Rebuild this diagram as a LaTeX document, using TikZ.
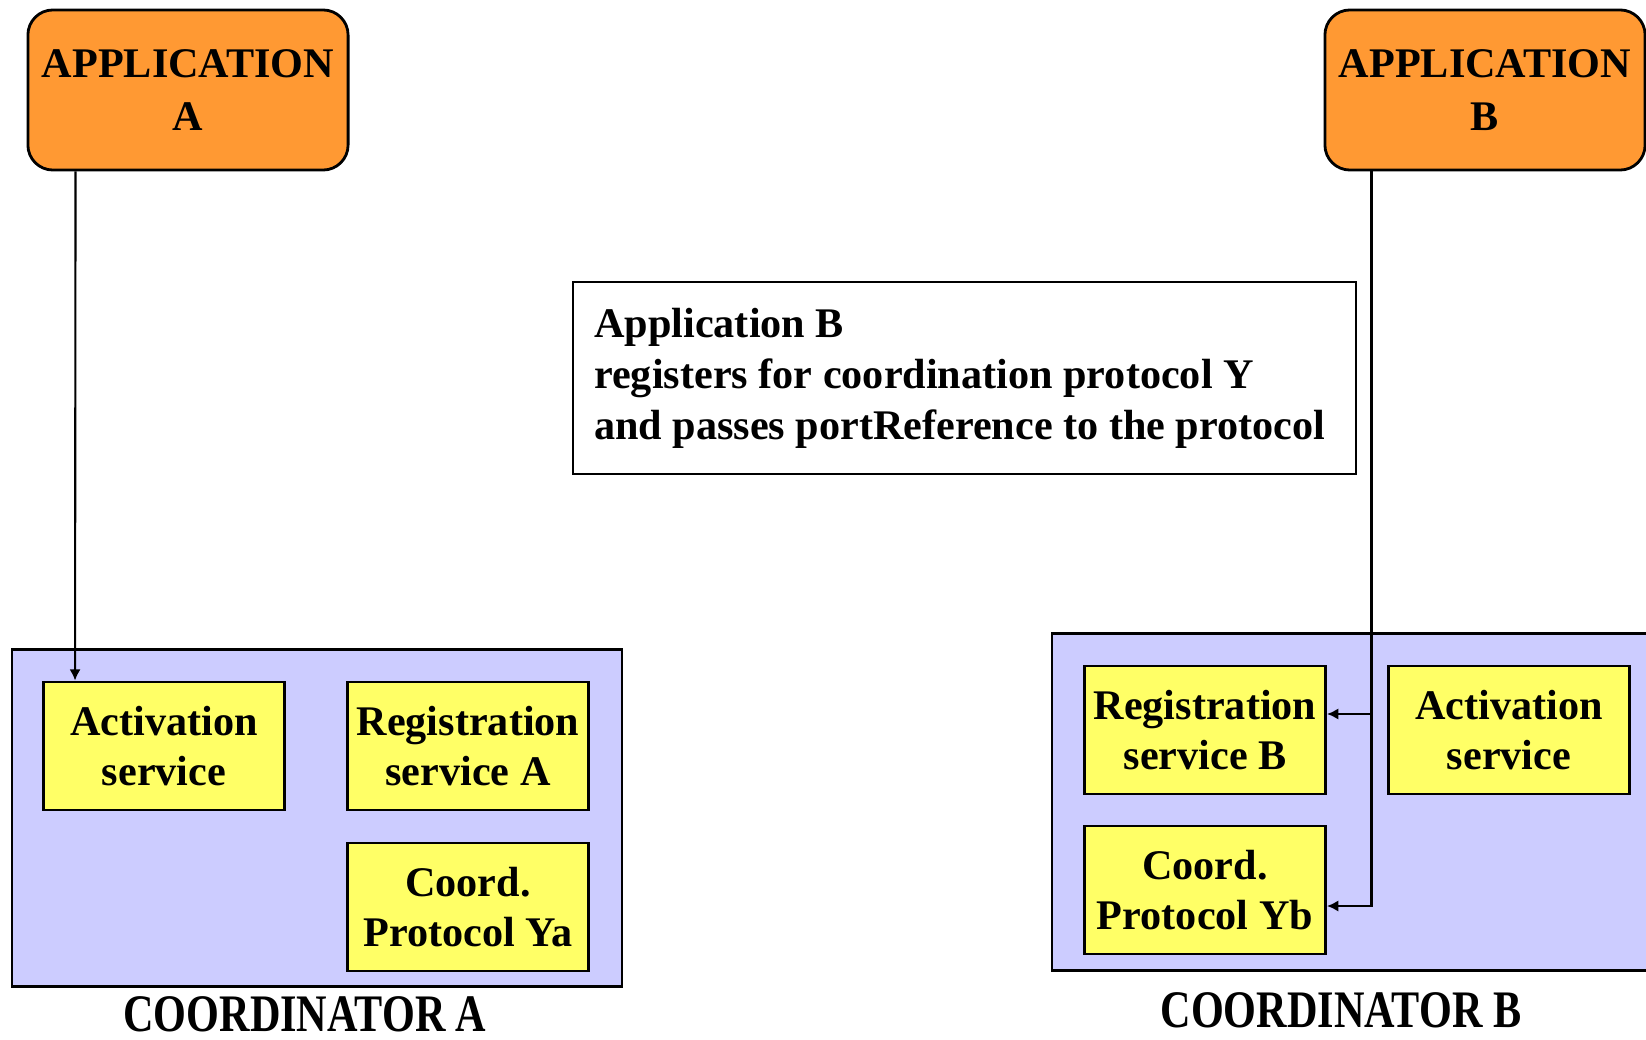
\documentclass[tikz,border=0pt]{standalone}
\usepackage{fontspec}
\setmainfont{Liberation Serif}
\newfontfamily\tallserif[FakeStretch=0.8]{Liberation Serif}
\usetikzlibrary{arrows.meta}

\definecolor{apporange}{RGB}{255,153,51}
\definecolor{coordblue}{RGB}{204,204,255}
\definecolor{svcyellow}{RGB}{255,255,102}

\begin{document}
\begin{tikzpicture}[x=0.01cm, y=-0.01cm,
    >={Latex[length=3.2pt,width=3.2pt]},
    appbox/.style={draw, line width=0.8pt, fill=apporange, rounded corners=0.25cm,
        minimum width=3.2cm, minimum height=1.6cm, align=center,
        font=\fontsize{12}{15.2}\selectfont\bfseries},
    coordbox/.style={draw, line width=0.7pt, fill=coordblue, minimum height=3.37cm},
    svcbox/.style={draw, line width=0.8pt, fill=svcyellow, minimum width=2.41cm,
        minimum height=1.28cm, inner sep=0pt, align=center,
        font=\fontsize{12}{14.2}\selectfont\bfseries},
    notebox/.style={draw, line width=0.7pt, anchor=west, inner xsep=0.21cm,
        minimum height=1.92cm, align=left, font=\fontsize{12}{14.5}\selectfont\bfseries},
    coordlabel/.style={anchor=base, inner sep=0pt, font=\tallserif\fontsize{15}{18}\selectfont\bfseries}]
    \useasboundingbox (0,0) rectangle (1646,1040);
    \clip (0,0) rectangle (1646,1040);

    % applications
    \node[appbox] (appA) at (188,90) {APPLICATION\\A};
    \node[appbox] (appB) at (1485,90) {APPLICATION\\B};

    % note
    \node[notebox] (note) at (572,378) {Application B\\registers for coordination protocol Y\\and passes portReference to the protocol\hspace*{0.1cm}};

    % coordinators
    \node[coordbox, minimum width=6.1cm] (coordA) at (317,818) {};
    \node[coordbox, minimum width=6.18cm] (coordB) at (1361,802) {};
    \node[coordlabel] (labA) at (305,1031) {COORDINATOR A};
    \node[coordlabel] (labB) at (1341,1027) {COORDINATOR B};

    \node[svcbox] (actA) at (164,746) {Activation\\service};
    \node[svcbox] (regA) at (468,746) {Registration\\service A};
    \node[svcbox] (ypA) at (468,907) {Coord.\\Protocol Ya};

    \node[svcbox] (regB) at (1205,730) {Registration\\service B};
    \node[svcbox] (actB) at (1509,730) {Activation\\service};
    \node[svcbox] (ypB) at (1205,890) {Coord.\\Protocol Yb};

    % connectors
    \draw[->, line width=0.6pt] ([xshift=0.49cm]appA.south west) -- ([xshift=0.33cm]actA.north west);
    \coordinate (tapB) at ([xshift=0.48cm]appB.south west);
    \coordinate (regin) at ([yshift=0.16cm]regB.east);
    \coordinate (ypin) at ([yshift=-0.16cm]ypB.east);
    \draw[->, line width=0.6pt] (tapB) |- (ypin);
    \draw[->, line width=0.6pt] (tapB |- regin) -- (regin);
\end{tikzpicture}
\end{document}
